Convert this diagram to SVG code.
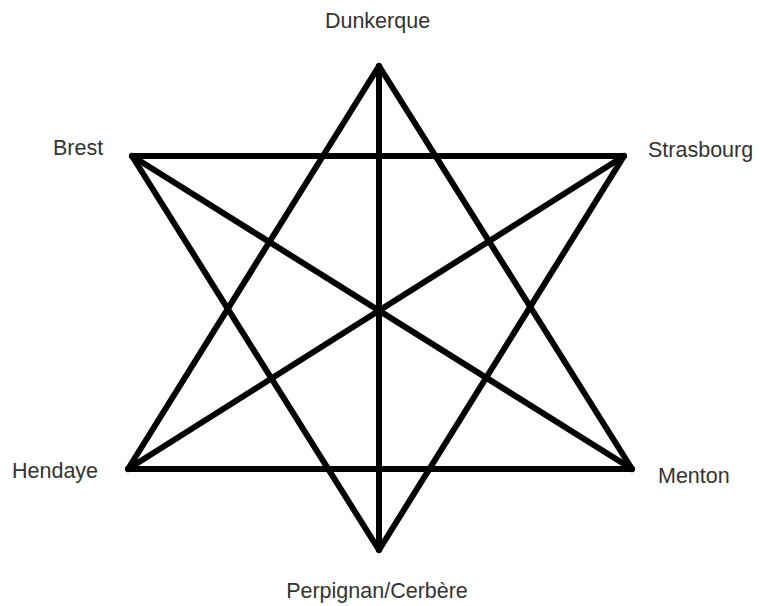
<svg xmlns="http://www.w3.org/2000/svg" width="760" height="606" viewBox="0 0 760 606">
<style>
.e{stroke:#000;stroke-width:6;stroke-linecap:round;fill:none}
text{font-family:"Liberation Sans",Arial,sans-serif;font-size:21.5px;fill:#333}
</style>
<rect width="760" height="606" fill="#fff"/>
<g id="connectors">
<line class="e" x1="132" y1="156" x2="624" y2="156"/>
<line class="e" x1="128" y1="469" x2="632" y2="469"/>
<line class="e" x1="379" y1="66" x2="128" y2="469"/>
<line class="e" x1="379" y1="66" x2="632" y2="469"/>
<line class="e" x1="379" y1="66" x2="379" y2="550"/>
<line class="e" x1="132" y1="156" x2="379" y2="550"/>
<line class="e" x1="624" y1="156" x2="379" y2="550"/>
<line class="e" x1="132" y1="156" x2="632" y2="469"/>
<line class="e" x1="624" y1="156" x2="128" y2="469"/>
</g>
<g id="dunkerque"><text x="377.5" y="28" text-anchor="middle">Dunkerque</text></g>
<g id="brest"><text x="53" y="155">Brest</text></g>
<g id="strasbourg"><text x="648" y="157">Strasbourg</text></g>
<g id="hendaye"><text x="12" y="478">Hendaye</text></g>
<g id="menton"><text x="658" y="483">Menton</text></g>
<g id="perpignan"><text x="377" y="598" text-anchor="middle">Perpignan/Cerbère</text></g>
</svg>
